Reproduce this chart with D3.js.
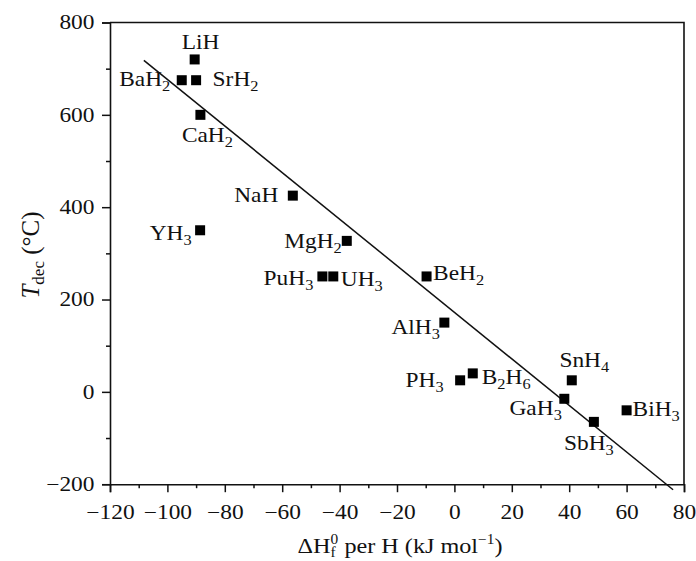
<!DOCTYPE html>
<html>
<head>
<meta charset="utf-8">
<script src="https://cdn.jsdelivr.net/npm/d3@7"></script>
<style>
  html, body { margin: 0; padding: 0; background: #fff; }
  svg { display: block; }
  text { font-family: "Liberation Serif", "Times New Roman", serif; fill: #111; }
</style>
</head>
<body>
<svg id="chart" width="696" height="561"></svg>
<script>
// Decomposition temperature vs. standard enthalpy of formation per H atom
const compounds = ["LiH", "BaH2", "SrH2", "CaH2", "NaH", "YH3", "MgH2", "PuH3", "UH3",
                   "BeH2", "AlH3", "PH3", "B2H6", "SnH4", "GaH3", "SbH3", "BiH3"];
const dHfPerH = [-90.5, -95, -90, -88.5, -56.3, -88.6, -37.5, -46, -42.2,
                 -9.7, -3.5, 2, 6.4, 40.9, 38.3, 48.6, 60];
const tDec = [720, 675, 675, 600, 425, 350, 327, 250, 250,
              250, 150, 25, 40, 25, -15, -65, -40];

// Linear trend line endpoints
const fitX = [-108.2, 76.2];
const fitY = [718, -212];

// Axis ticks
const xTicks = [-120, -100, -80, -60, -40, -20, 0, 20, 40, 60, 80];
const xMinorTicks = d3.range(-110, 80, 20);
const yTicks = [-200, 0, 200, 400, 600, 800];
const yMinorTicks = [-100, 100, 300, 500, 700];

// Label placement around each marker: [dx, dy, anchor]
const labelPlacement = {
  LiH: [6, -10, "middle"], BaH2: [-11.5, 5.5, "end"], SrH2: [16.5, 5.5, "start"],
  CaH2: [7, 27.5, "middle"], NaH: [-14.5, 6.5, "end"], YH3: [-8.5, 9.5, "end"],
  MgH2: [-5, 7.5, "end"], PuH3: [-9, 9, "end"], UH3: [7.5, 9.5, "start"],
  BeH2: [6.5, 3.5, "start"], AlH3: [-4.5, 11, "end"], PH3: [-16.5, 6.5, "end"],
  B2H6: [9, 10.5, "start"], SnH4: [12.5, -13.5, "middle"], GaH3: [-2.5, 16, "end"],
  SbH3: [-5, 28.5, "middle"], BiH3: [6, 6, "start"]
};

const plotLeft = 110, plotRight = 684, plotTop = 22.5, plotBottom = 484.2;
const stretch = 1.17;

const svg = d3.select("#chart");
const x = d3.scaleLinear().domain([-120, 80]).range([plotLeft, plotRight]);
const y = d3.scaleLinear().domain([-200, 800]).range([plotBottom, plotTop]);

// Frame (top and right sides)
svg.append("path")
  .attr("d", `M${plotLeft},${plotTop}H${plotRight}V${plotBottom}`)
  .attr("fill", "none").attr("stroke", "#111").attr("stroke-width", 1.6);

// Bottom axis
const xAxis = svg.append("g").attr("transform", `translate(0,${plotBottom})`)
  .call(d3.axisBottom(x).tickValues(xTicks).tickSizeOuter(0).tickSize(8));
svg.append("g").attr("transform", `translate(0,${plotBottom})`)
  .call(d3.axisBottom(x).tickValues(xMinorTicks).tickSizeOuter(0).tickSize(4).tickFormat(""))
  .call(g => g.select(".domain").remove());

// Left axis
const yAxis = svg.append("g").attr("transform", `translate(${plotLeft},0)`)
  .call(d3.axisLeft(y).tickValues(yTicks).tickSizeOuter(0).tickSize(8));
svg.append("g").attr("transform", `translate(${plotLeft},0)`)
  .call(d3.axisLeft(y).tickValues(yMinorTicks).tickSizeOuter(0).tickSize(4).tickFormat(""))
  .call(g => g.select(".domain").remove());

svg.selectAll(".domain").attr("stroke", "#111").attr("stroke-width", 1.6);
svg.selectAll(".tick line").attr("stroke", "#111").attr("stroke-width", 1.5);

xAxis.selectAll(".tick text")
  .attr("y", 0).attr("dy", 0)
  .attr("transform", `translate(0,35) scale(${stretch},1)`)
  .style("font-size", "20px").style("font-family", "Liberation Serif");

yAxis.selectAll(".tick text")
  .attr("x", 0)
  .attr("transform", `translate(-15.5,0) scale(${stretch},1)`)
  .style("font-size", "20px").style("font-family", "Liberation Serif");

// Trend line
svg.append("line")
  .attr("x1", x(fitX[0])).attr("y1", y(fitY[0]))
  .attr("x2", x(fitX[1])).attr("y2", y(fitY[1]))
  .attr("stroke", "#111").attr("stroke-width", 1.5);

// Markers
const pts = compounds.map((c, i) => ({ name: c, dx: dHfPerH[i], t: tDec[i] }));
const sq = 10;
svg.append("g").selectAll("rect").data(pts).join("rect")
  .attr("x", d => x(d.dx) - sq / 2).attr("y", d => y(d.t) - sq / 2)
  .attr("width", sq).attr("height", sq).attr("fill", "#000");

// Formula labels with subscripted digits
function formula(text, str) {
  const parts = str.match(/[A-Za-z]+|\d+/g);
  let sub = false;
  parts.forEach(p => {
    const isNum = /\d/.test(p);
    const ts = text.append("tspan").text(p);
    if (isNum) {
      ts.style("font-size", "14px").attr("dy", sub ? 0 : 5);
      sub = true;
    } else {
      if (sub) ts.attr("dy", -5);
      sub = false;
    }
  });
}

const labels = svg.append("g");
pts.forEach(d => {
  const [ldx, ldy, anchor] = labelPlacement[d.name];
  const g = labels.append("g")
    .attr("transform", `translate(${x(d.dx) + ldx},${y(d.t) + ldy}) scale(${stretch},1)`);
  const t = g.append("text").attr("text-anchor", anchor).style("font-size", "20px");
  formula(t, d.name);
});

// Y axis title
const yt = svg.append("text")
  .attr("transform", "translate(39,255) rotate(-90)")
  .attr("text-anchor", "middle")
  .style("font-size", "25px");
yt.append("tspan").text("T").style("font-style", "italic");
yt.append("tspan").text("dec").style("font-size", "17px").attr("dy", 5);
yt.append("tspan").text(" (°C)").attr("dy", -5);

// X axis title
const xg = svg.append("g").attr("transform", `translate(400,553) scale(1.1,1)`);
const xt = xg.append("text").attr("text-anchor", "middle").style("font-size", "22px");
xt.append("tspan").text("ΔH");
xt.append("tspan").text("0").style("font-size", "14px").attr("dy", -9);
xt.append("tspan").text("f").style("font-size", "14px").attr("dx", -7).attr("dy", 13);
xt.append("tspan").text(" per H (kJ mol").attr("dx", 2.5).attr("dy", -4);
xt.append("tspan").text("−1").style("font-size", "14px").attr("dy", -9);
xt.append("tspan").text(")").attr("dy", 9);
</script>
</body>
</html>
